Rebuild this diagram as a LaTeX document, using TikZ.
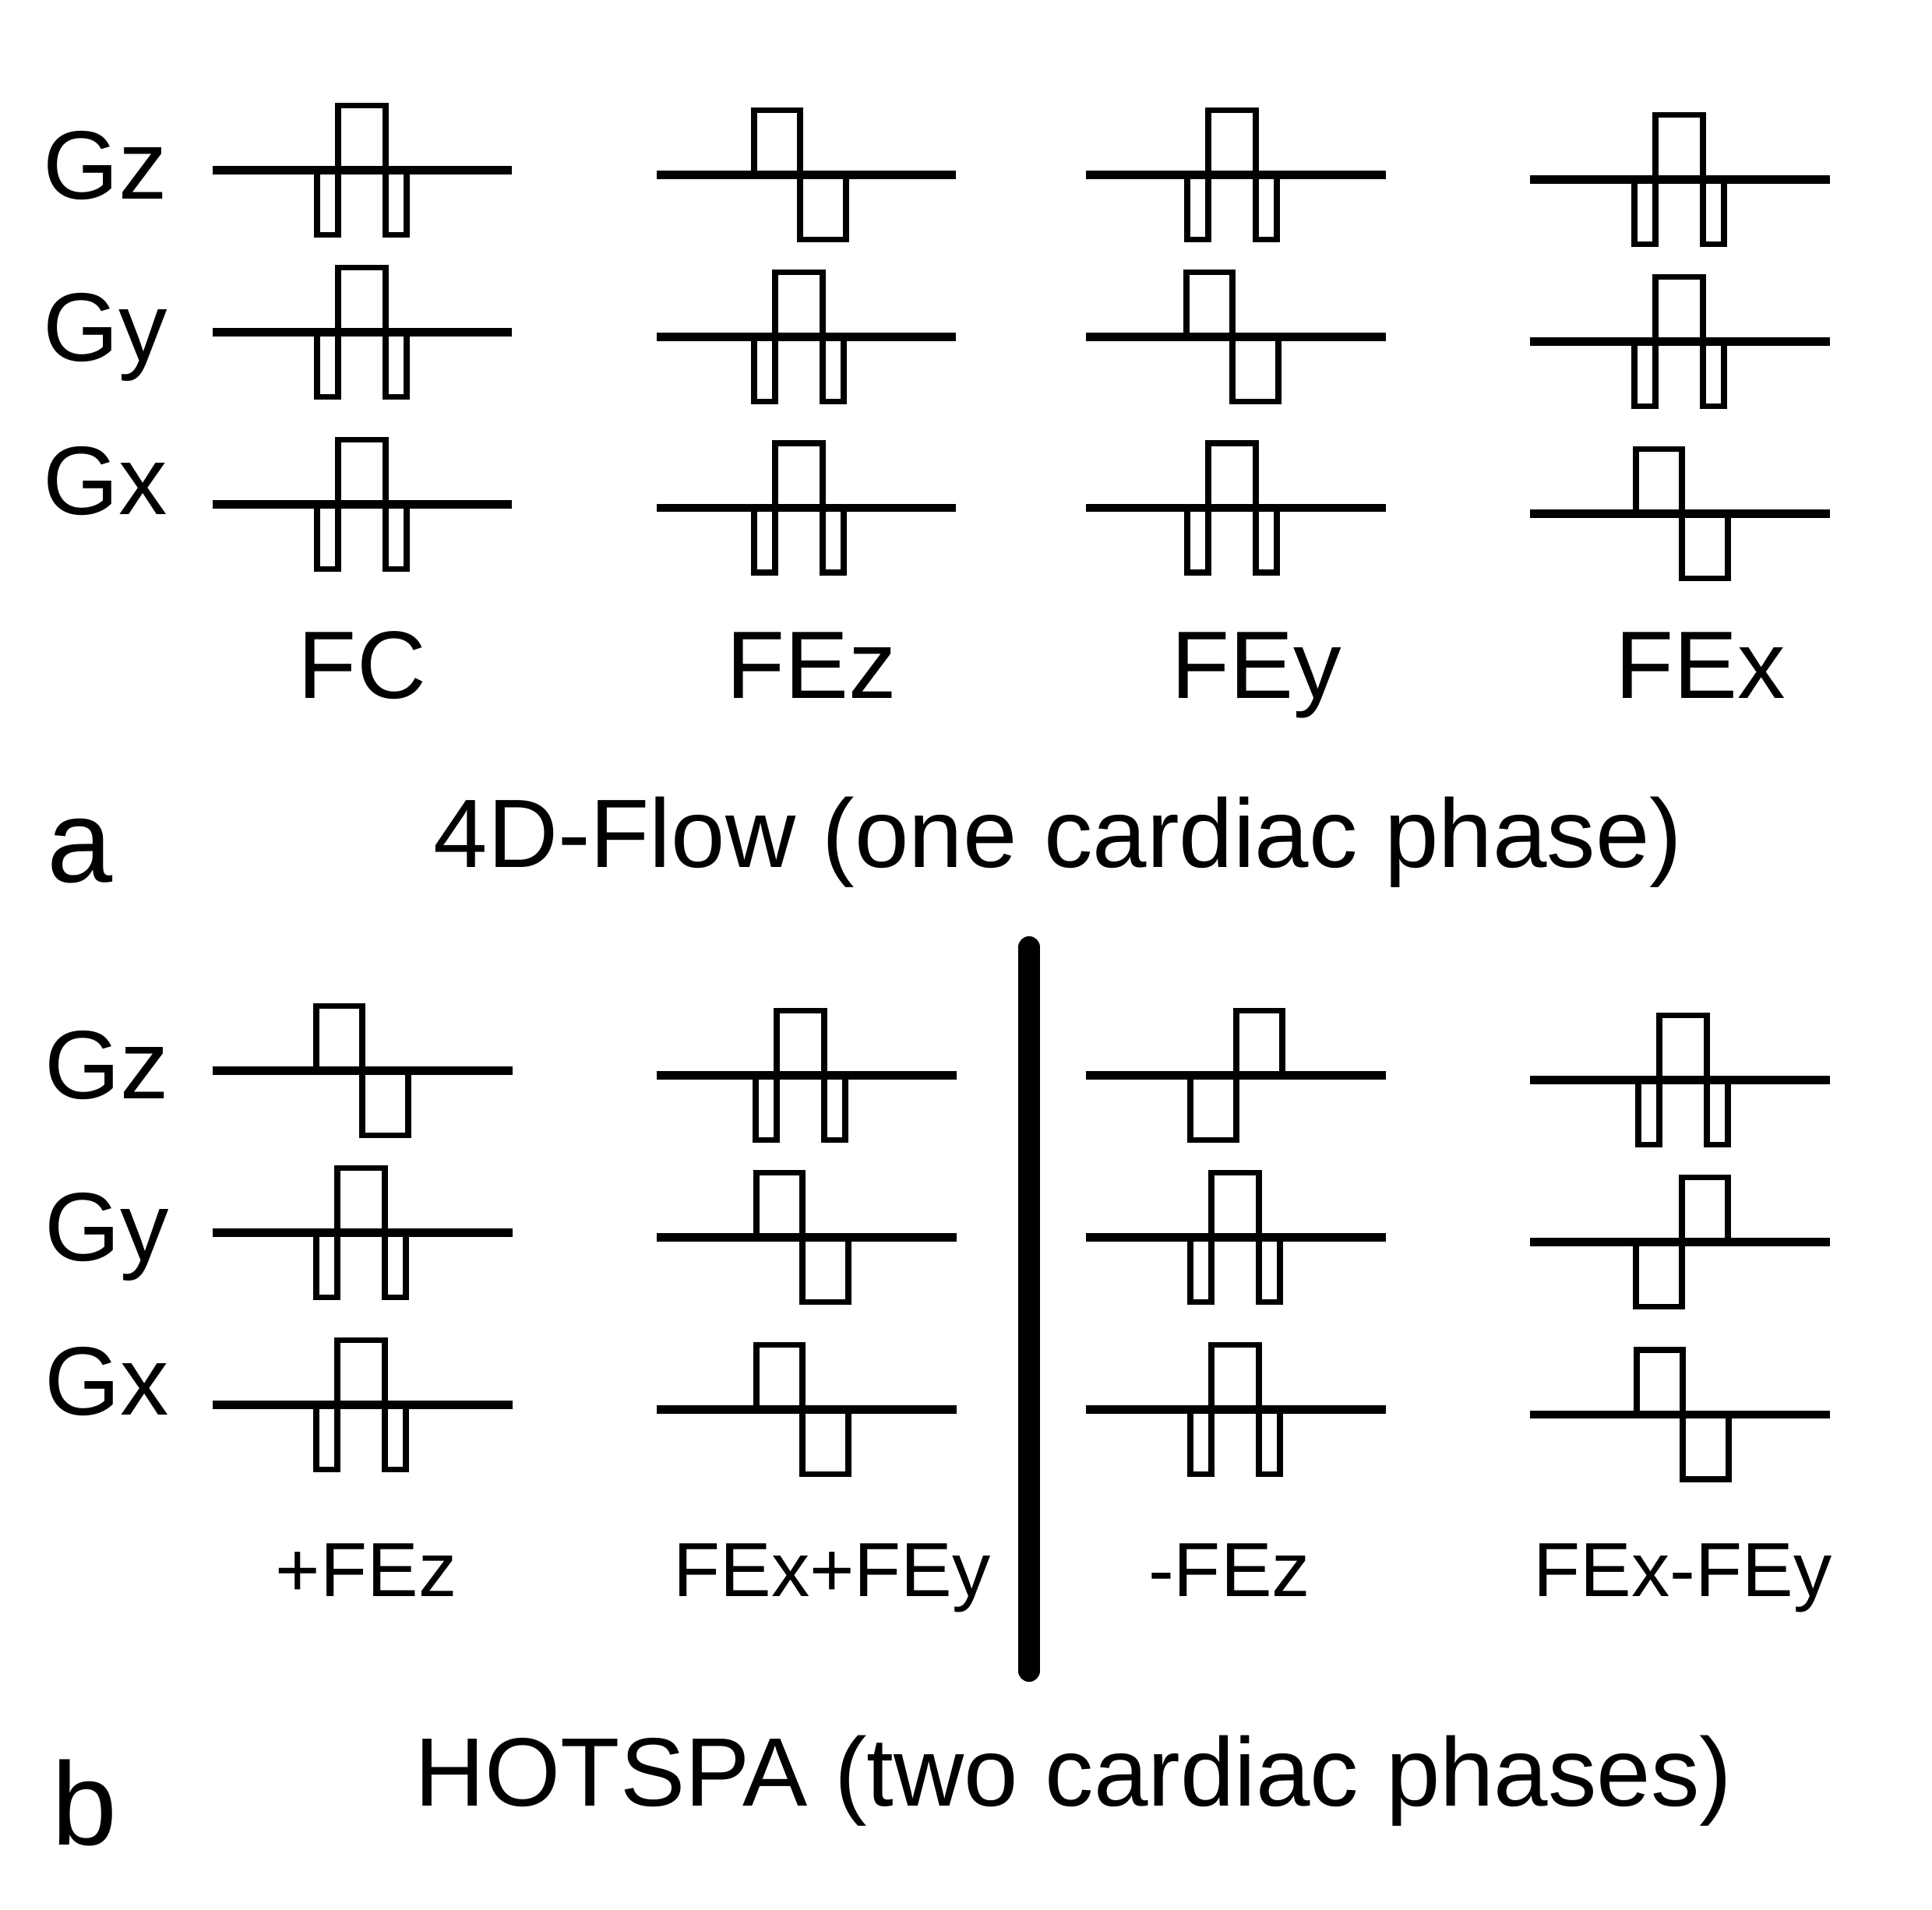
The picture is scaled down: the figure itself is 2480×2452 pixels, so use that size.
\documentclass[tikz,border=0pt]{standalone}
\usepackage{fontspec}
\setmainfont{Liberation Sans}
\begin{document}
\begin{tikzpicture}[x=0.01cm,y=-0.01cm,
  base/.style={line width=3.1pt},
  pulse/.style={line width=2pt, line join=miter},
  sep/.style={line width=8pt, line cap=round},
  rowlab/.style={anchor=base west, inner sep=0pt, font=\fontsize{35.5pt}{40pt}\selectfont},
  collab/.style={anchor=base, inner sep=0pt, font=\fontsize{35pt}{40pt}\selectfont},
  collabb/.style={anchor=base, inner sep=0pt, font=\fontsize{28pt}{32pt}\selectfont},
  title/.style={anchor=base, inner sep=0pt, font=\fontsize{35.5pt}{40pt}\selectfont},
  panel/.style={anchor=base west, inner sep=0pt, font=\fontsize{43pt}{48pt}\selectfont}]
\fill[white] (0,0) rectangle (2480,2452);
\useasboundingbox (0,0) rectangle (2480,2452);
% macros: baseline, flow-compensated, bipolar, reversed bipolar
\newcommand\bl[3]{\draw[base] (#1,#3) -- (#2,#3);}
\newcommand\fcw[2]{\draw[pulse] (#1,#2) -- (#1,{#2+83}) -- ({#1+27},{#2+83}) -- ({#1+27},{#2-83}) -- ({#1+88},{#2-83}) -- ({#1+88},{#2+83}) -- ({#1+115},{#2+83}) -- ({#1+115},#2);}
\newcommand\bpw[2]{\draw[pulse] (#1,#2) -- (#1,{#2-83}) -- ({#1+59},{#2-83}) -- ({#1+59},{#2+83}) -- ({#1+118},{#2+83}) -- ({#1+118},#2);}
\newcommand\rbw[2]{\draw[pulse] (#1,#2) -- (#1,{#2+83}) -- ({#1+59},{#2+83}) -- ({#1+59},{#2-83}) -- ({#1+118},{#2-83}) -- ({#1+118},#2);}

% ---------- panel a ----------
\node[rowlab] (agz) at (55,256) {Gz};
\node[rowlab] (agy) at (55,464) {Gy};
\node[rowlab] (agx) at (55,661) {Gx};
% column 1 FC
\fcw{407}{218.6}\bl{273}{657}{218.6}
\fcw{407}{426.6}\bl{273}{657}{426.6}
\fcw{407}{647.6}\bl{273}{657}{647.6}
% column 2 FEz
\bpw{968}{224.4}\bl{843}{1227}{224.4}
\fcw{968}{432.4}\bl{843}{1227}{432.4}
\fcw{968}{652}\bl{843}{1227}{652}
% column 3 FEy
\fcw{1524}{224.4}\bl{1394}{1779}{224.4}
\bpw{1523}{432.4}\bl{1394}{1779}{432.4}
\fcw{1524}{652}\bl{1394}{1779}{652}
% column 4 FEx
\fcw{2098}{230.6}\bl{1964}{2349}{230.6}
\fcw{2098}{438.6}\bl{1964}{2349}{438.6}
\bpw{2100}{659.6}\bl{1964}{2349}{659.6}

\node[collab] (lfc) at (465,897) {FC};
\node[collab] (lfez) at (1042,897) {FEz};
\node[collab] (lfey) at (1613,897) {FEy};
\node[collab] (lfex) at (2183,897) {FEx};
\node[panel] (pa) at (60,1133) {a};
\node[title] (ta) at (1358,1114) {4D-Flow (one cardiac phase)};

% ---------- panel b ----------
\node[rowlab] (bgz) at (57,1411) {Gz};
\node[rowlab] (bgy) at (57,1619) {Gy};
\node[rowlab] (bgx) at (57,1817) {Gx};
% column 1 +FEz
\bpw{406}{1374.5}\bl{273}{658}{1374.5}
\fcw{406}{1582.6}\bl{273}{658}{1582.6}
\fcw{406}{1803.5}\bl{273}{658}{1803.5}
% column 2 FEx+FEy
\fcw{970}{1380.8}\bl{843}{1228}{1380.8}
\bpw{971}{1588.8}\bl{843}{1228}{1588.8}
\bpw{971}{1809.8}\bl{843}{1228}{1809.8}
% separator
\coordinate (st) at (1321,1216);
\coordinate (sb) at (1321,2145);
\draw[sep] (st) -- (sb);
% column 3 -FEz
\rbw{1528}{1380.8}\bl{1394}{1779}{1380.8}
\fcw{1528}{1588.8}\bl{1394}{1779}{1588.8}
\fcw{1528}{1809.8}\bl{1394}{1779}{1809.8}
% column 4 FEx-FEy
\fcw{2103}{1386.6}\bl{1964}{2349}{1386.6}
\rbw{2100}{1594.6}\bl{1964}{2349}{1594.6}
\bpw{2101}{1816}\bl{1964}{2349}{1816}

\node[collabb] (lpz) at (470,2049) {+FEz};
\node[collabb] (lxpy) at (1068,2049) {FEx+FEy};
\node[collabb] (lmz) at (1578,2049) {-FEz};
\node[collabb] (lxmy) at (2160,2049) {FEx-FEy};
\node[panel] (pb) at (66,2368) {b};
\node[title] (tb) at (1378,2318) {HOTSPA (two cardiac phases)};
\end{tikzpicture}
\end{document}
